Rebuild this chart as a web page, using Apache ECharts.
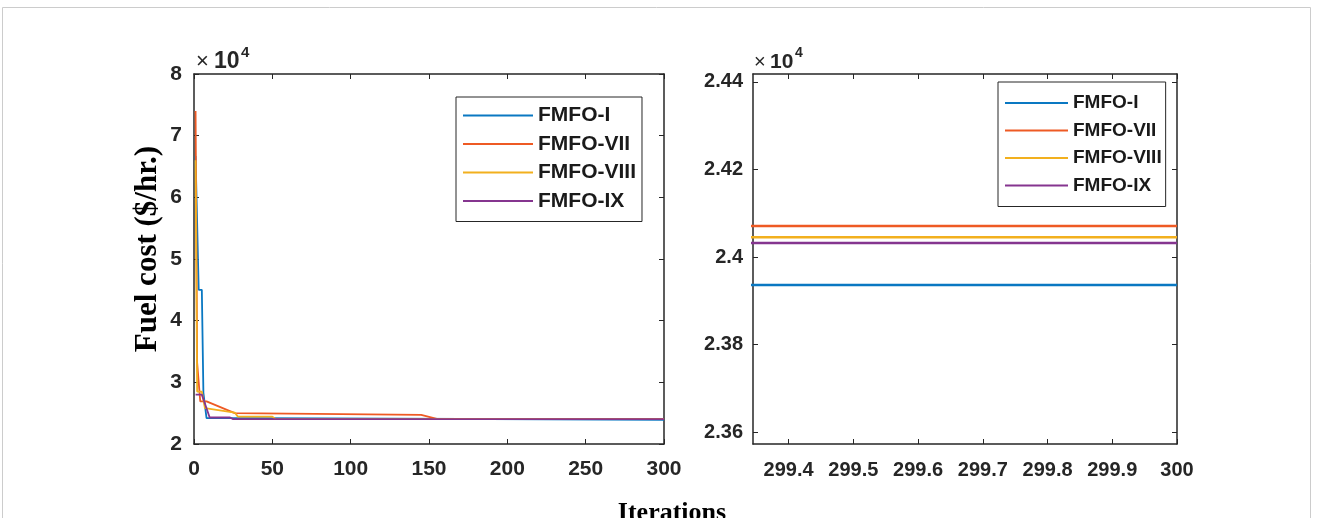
<!DOCTYPE html>
<html>
<head>
<meta charset="utf-8">
<title>FMFO fuel cost convergence</title>
<script src="https://cdn.jsdelivr.net/npm/echarts@6.0.0/dist/echarts.min.js"></script>
<style>
html, body { margin: 0; padding: 0; background: #fff; }
#chart { width: 1319px; height: 518px; }
</style>
</head>
<body>
<div id="chart"></div>
<script>
// legend names and MATLAB-ish line colours
const seriesNames = ["FMFO-I", "FMFO-VII", "FMFO-VIII", "FMFO-IX"];
const seriesColors = ["#0a78c2", "#ee5a24", "#f2b01e", "#85358f"];

// left panel: convergence curves (breakpoints)
const itersI = [1, 2, 3, 5, 6, 7, 8, 41, 42, 300];
const costI = [66700, 66700, 45000, 45000, 28300, 28300, 24200, 24200, 23936, 23936];

const itersVII = [1, 2, 3, 4, 8, 26, 27, 145, 155, 300];
const costVII = [74000, 33200, 33200, 26900, 26900, 25000, 24720, 24720, 24071, 24071];

const itersVIII = [1, 2, 5, 7, 26, 28, 50, 52, 300];
const costVIII = [66000, 28500, 28500, 25800, 25100, 24440, 24440, 24045, 24045];

const itersIX = [1, 5, 10, 23, 25, 300];
const costIX = [28000, 28000, 24300, 24300, 24032, 24032];

// right panel: zoom on the last iterations
const lastIters = [299, 300];
const lastI = [23936, 23936];
const lastVII = [24071, 24071];
const lastVIII = [24045, 24045];
const lastIX = [24032, 24032];

// tick values
const leftXTicks = [0, 50, 100, 150, 200, 250, 300];
const leftYTicks = [20000, 30000, 40000, 50000, 60000, 70000, 80000];
const rightXTicks = [299.4, 299.5, 299.6, 299.7, 299.8, 299.9, 300];
const rightYTicks = [23600, 23800, 24000, 24200, 24400];

function zip(xs, ys) {
  return xs.map((x, i) => [x, ys[i]]);
}

var myChart = echarts.init(document.getElementById("chart"));

var axisColor = "#262626";
var sansFont = '"Liberation Sans", Arial, sans-serif';
var serifFont = '"Liberation Serif", "Times New Roman", serif';

function axisLine() {
  return { show: true, onZero: false, lineStyle: { color: axisColor, width: 1.5 } };
}

function mirrorTick(custom) {
  var t = { show: true, inside: true, length: 5, lineStyle: { color: axisColor, width: 1 } };
  if (custom) t.customValues = custom;
  return t;
}

var leftX = {
  type: "value", gridIndex: 0, min: leftXTicks[0], max: leftXTicks[leftXTicks.length - 1], interval: 50,
  axisLine: axisLine(), axisTick: mirrorTick(), splitLine: { show: false },
  axisLabel: { margin: 15, color: axisColor, fontSize: 21, fontWeight: "bold", fontFamily: sansFont }
};
var leftY = {
  type: "value", gridIndex: 0, min: leftYTicks[0], max: leftYTicks[leftYTicks.length - 1], interval: 10000,
  axisLine: axisLine(), axisTick: mirrorTick(), splitLine: { show: false },
  axisLabel: {
    margin: 12, color: axisColor, fontSize: 21, fontWeight: "bold", fontFamily: sansFont,
    formatter: function (v) { return v / 10000; }
  }
};
var rightX = {
  type: "value", gridIndex: 1, min: 299.345, max: 300,
  axisLine: axisLine(), axisTick: mirrorTick(rightXTicks), splitLine: { show: false },
  axisLabel: {
    customValues: rightXTicks, margin: 16, color: axisColor, fontSize: 20, fontWeight: "bold", fontFamily: sansFont,
    formatter: function (v) { return v === 300 ? "300" : v.toFixed(1); }
  }
};
var rightY = {
  type: "value", gridIndex: 1, min: 23573, max: 24418,
  axisLine: axisLine(), axisTick: mirrorTick(rightYTicks), splitLine: { show: false },
  axisLabel: {
    customValues: rightYTicks, margin: 10, color: axisColor, fontSize: 20, fontWeight: "bold", fontFamily: sansFont,
    formatter: function (v) { return String(+(v / 10000).toFixed(2)); }
  }
};

// copies for the top / right box edges (ticks only)
function mirror(ax, pos) {
  var m = echarts.util.clone(ax);
  m.position = pos;
  m.axisLabel = { show: false };
  return m;
}

function legendFor(left, top, itemWidth, fontSize, padding) {
  return {
    left: left, top: top, orient: "vertical", data: seriesNames, icon: "rect",
    itemWidth: itemWidth, itemHeight: 2, itemGap: 7.5, padding: padding,
    borderColor: axisColor, borderWidth: 1, backgroundColor: "#fff", selectedMode: false,
    textStyle: { fontSize: fontSize, fontWeight: "bold", color: "#1a1a1a", fontFamily: sansFont, lineHeight: 20 }
  };
}

var leftData = [zip(itersI, costI), zip(itersVII, costVII), zip(itersVIII, costVIII), zip(itersIX, costIX)];
var rightData = [zip(lastIters, lastI), zip(lastIters, lastVII), zip(lastIters, lastVIII), zip(lastIters, lastIX)];

var series = [];
seriesNames.forEach(function (name, i) {
  series.push({
    name: name, type: "line", xAxisIndex: 0, yAxisIndex: 0, data: leftData[i],
    showSymbol: false, animation: false, clip: true,
    lineStyle: { color: seriesColors[i], width: 1.8 }, itemStyle: { color: seriesColors[i] }
  });
});
seriesNames.forEach(function (name, i) {
  series.push({
    name: name, type: "line", xAxisIndex: 2, yAxisIndex: 2, data: rightData[i],
    showSymbol: false, animation: false, clip: true,
    lineStyle: { color: seriesColors[i], width: 2.5 }, itemStyle: { color: seriesColors[i] }
  });
});

var option = {
  backgroundColor: "#fff",
  animation: false,
  grid: [
    { left: 194, top: 74, width: 470, height: 370, containLabel: false },
    { left: 753, top: 74, width: 424, height: 370, containLabel: false }
  ],
  xAxis: [leftX, mirror(leftX, "top"), rightX, mirror(rightX, "top")],
  yAxis: [leftY, mirror(leftY, "right"), rightY, mirror(rightY, "right")],
  legend: [
    legendFor(456, 97, 70, 21, [8, 6, 10, 7]),
    legendFor(998, 82, 63, 19, [11, 4, 11, 7])
  ],
  graphic: [
    {
      type: "rect", silent: true, z: -10,
      shape: { x: 2.5, y: 7.5, width: 1308, height: 530 },
      style: { fill: "none", stroke: "#cccccc", lineWidth: 1 }
    },
    { type: "text", x: 196, y: 62, style: { text: "×", fill: axisColor, font: "22px " + sansFont, textVerticalAlign: "middle" } },
    { type: "text", x: 214, y: 62, style: { text: "10", fill: axisColor, font: "bold 23px " + sansFont, textVerticalAlign: "middle" } },
    { type: "text", x: 241, y: 53, style: { text: "4", fill: axisColor, font: "bold 15px " + sansFont, textVerticalAlign: "middle" } },
    { type: "text", x: 754, y: 62, style: { text: "×", fill: axisColor, font: "20px " + sansFont, textVerticalAlign: "middle" } },
    { type: "text", x: 770, y: 62, style: { text: "10", fill: axisColor, font: "bold 21px " + sansFont, textVerticalAlign: "middle" } },
    { type: "text", x: 795, y: 53, style: { text: "4", fill: axisColor, font: "bold 14px " + sansFont, textVerticalAlign: "middle" } },
    {
      type: "text", x: 148, y: 249, rotation: Math.PI / 2,
      style: { text: "Fuel cost ($/hr.)", fill: "#000", font: "bold 31px " + serifFont, textAlign: "center", textVerticalAlign: "middle" }
    },
    {
      type: "text", x: 672, y: 513,
      style: { text: "Iterations", fill: "#000", font: "bold 26px " + serifFont, textAlign: "center", textVerticalAlign: "middle" }
    }
  ],
  series: series
};

myChart.setOption(option);
</script>
</body>
</html>
